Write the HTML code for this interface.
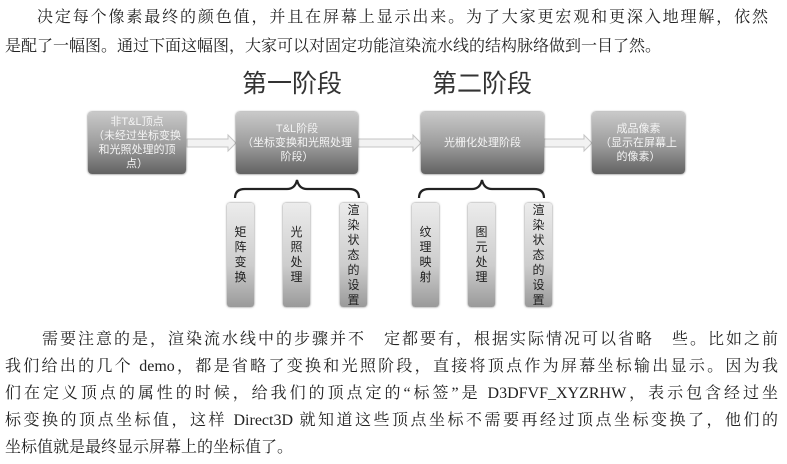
<!DOCTYPE html>
<html><head><meta charset="utf-8"><style>
html,body{margin:0;padding:0;background:#fff;}
body{width:787px;height:464px;position:relative;overflow:hidden;font-family:"Liberation Serif","Noto Serif CJK SC","Noto Sans CJK SC",serif;color:#222;}
.ln{position:absolute;left:5px;width:773px;font-size:16px;line-height:20px;height:20px;text-align:justify;text-align-last:justify;white-space:nowrap;}
.ln.last{text-align-last:left;}
.t{position:absolute;font-family:"Liberation Sans","Noto Sans CJK SC",sans-serif;font-size:25px;color:#333;line-height:25px;}
.box{position:absolute;top:112px;height:62px;border-radius:4px;background:linear-gradient(180deg,#c9c9c9 0%,#9a9a9a 55%,#626262 100%);box-shadow:0 0 2px #555;display:flex;align-items:center;justify-content:center;text-align:center;font-family:"Liberation Sans","Noto Sans CJK SC",sans-serif;font-size:11px;line-height:14px;color:#f4f4f4;}
.bar{position:absolute;top:203px;height:104px;width:27px;border-radius:3px;background:linear-gradient(180deg,#ececec 0%,#cdcdcd 60%,#9a9a9a 100%);box-shadow:0 0 2px #777;font-family:"Liberation Sans","Noto Sans CJK SC",sans-serif;font-size:12px;line-height:15px;color:#222;display:flex;align-items:center;justify-content:center;text-align:center;}
.bar span{width:13px;word-break:break-all;}
</style></head><body>
<div class="ln" style="top:8px;left:37px;width:731px;">决定每个像素最终的颜色值，并且在屏幕上显示出来。为了大家更宏观和更深入地理解，依然</div>
<div class="ln last" style="top:37px;">是配了一幅图。通过下面这幅图，大家可以对固定功能渲染流水线的结构脉络做到一目了然。</div>

<div class="t" style="left:242px;top:72px;">第一阶段</div>
<div class="t" style="left:432px;top:72px;">第二阶段</div>

<svg style="position:absolute;left:0;top:0" width="787" height="464">
 <g fill="#f2f2f2" stroke="#c4c4c4" stroke-width="1">
  <path d="M187 139 H228 V135 L236 143 L228 151 V147 H187 Z"/>
  <path d="M358 139 H413 V135 L421 143 L413 151 V147 H358 Z"/>
  <path d="M544 139 H584 V135 L592 143 L584 151 V147 H544 Z"/>
 </g>
 <g fill="none" stroke="#222" stroke-width="2.2">
  <path d="M235 198 Q235 189 245 189 H287 Q295 189 297 180 Q299 189 307 189 H349 Q359 189 359 198"/>
  <path d="M419 198 Q419 189 429 189 H472 Q480 189 482 180 Q484 189 492 189 H534 Q544 189 544 198"/>
 </g>
</svg>

<div class="box" style="left:88px;width:98px;">非T&amp;L顶点<br>（未经过坐标变换<br>和光照处理的顶<br>点）</div>
<div class="box" style="left:236px;width:122px;">T&amp;L阶段<br>（坐标变换和光照处理<br>阶段）</div>
<div class="box" style="left:421px;width:123px;">光栅化处理阶段</div>
<div class="box" style="left:592px;width:93px;">成品像素<br>（显示在屏幕上<br>的像素）</div>

<div class="bar" style="left:227px;"><span>矩阵变换</span></div>
<div class="bar" style="left:283px;"><span>光照处理</span></div>
<div class="bar" style="left:340px;"><span>渲染状态的设置</span></div>
<div class="bar" style="left:412px;"><span>纹理映射</span></div>
<div class="bar" style="left:468px;"><span>图元处理</span></div>
<div class="bar" style="left:525px;"><span>渲染状态的设置</span></div>

<div class="ln" style="top:330px;left:42px;width:736px;">需要注意的是，渲染流水线中的步骤并不　定都要有，根据实际情况可以省略　些。比如之前</div>
<div class="ln" style="top:357px;">我们给出的几个 demo，都是省略了变换和光照阶段，直接将顶点作为屏幕坐标输出显示。因为我</div>
<div class="ln" style="top:384px;">们在定义顶点的属性的时候，给我们的顶点定的“标签”是 D3DFVF_XYZRHW，表示包含经过坐</div>
<div class="ln" style="top:411px;">标变换的顶点坐标值，这样 Direct3D 就知道这些顶点坐标不需要再经过顶点坐标变换了，他们的</div>
<div class="ln last" style="top:438px;">坐标值就是最终显示屏幕上的坐标值了。</div>
</body></html>
